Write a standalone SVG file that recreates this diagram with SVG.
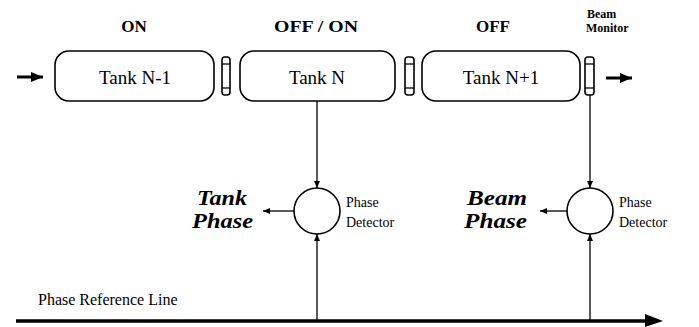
<svg xmlns="http://www.w3.org/2000/svg" width="699" height="327" viewBox="0 0 699 327" font-family="'Liberation Serif', 'Times New Roman', serif">
<defs>
<style>
text{font-family:'Liberation Serif','Times New Roman',serif;fill:#000}
.state{font-size:17px;font-weight:bold;text-anchor:middle}
.tank{font-size:19px;text-anchor:middle}
.box{fill:#fff;stroke:#000;stroke-width:1.6}
.mon{fill:#fff;stroke:#000;stroke-width:1.6}
.det{fill:#fff;stroke:#000;stroke-width:1.6}
.ln{stroke:#000;stroke-width:1.3;fill:none}
.thick{stroke:#000;stroke-width:3;fill:none}
.big{font-size:20px;font-weight:bold;font-style:italic}
.small{font-size:14px}
</style>
<marker id="ah" markerUnits="userSpaceOnUse" markerWidth="8" markerHeight="8" refX="7" refY="3" orient="auto">
<path d="M0,0 L7,3 L0,6 Z" fill="#000"/>
</marker>
<marker id="ahb" markerUnits="userSpaceOnUse" markerWidth="14" markerHeight="12" refX="12" refY="5" orient="auto">
<path d="M0,0 L12,5 L0,10 Z" fill="#000"/>
</marker>
</defs>
<rect width="699" height="327" fill="#fff"/>

<g id="labels">
<text class="state" x="316" y="32" textLength="84" lengthAdjust="spacingAndGlyphs">OFF / ON</text>
<text class="state" x="134" y="32">ON</text>
<text class="state" x="493" y="32">OFF</text>
</g>

<g id="tank-n-1">
<rect class="box" x="55" y="51" width="159" height="50" rx="14"/>
<text class="tank" x="135" y="84">Tank N-1</text>
</g>
<g id="tank-n">
<rect class="box" x="240" y="51" width="155" height="50" rx="14"/>
<text class="tank" x="317" y="84">Tank N</text>
</g>
<g id="tank-n+1">
<rect class="box" x="422" y="51" width="158" height="50" rx="14"/>
<text class="tank" x="501" y="84">Tank N+1</text>
</g>

<g id="monitor-1">
<rect class="mon" x="222" y="57" width="8" height="38" rx="3"/>
<line class="ln" x1="222" y1="64" x2="230" y2="64"/>
<line class="ln" x1="222" y1="88" x2="230" y2="88"/>
</g>
<g id="monitor-2">
<rect class="mon" x="405" y="57" width="9" height="38" rx="3"/>
<line class="ln" x1="405" y1="64" x2="414" y2="64"/>
<line class="ln" x1="405" y1="88" x2="414" y2="88"/>
</g>
<g id="beam-monitor">
<rect class="mon" x="585" y="57" width="9" height="38" rx="3"/>
<line class="ln" x1="585" y1="64" x2="594" y2="64"/>
<line class="ln" x1="585" y1="88" x2="594" y2="88"/>
<text x="587" y="18" font-size="12" font-weight="bold">Beam</text>
<text x="586" y="32" font-size="12" font-weight="bold">Monitor</text>
</g>

<g id="detector-tank">
<circle class="det" cx="317" cy="211" r="23"/>
<text class="small" x="346" y="207">Phase</text>
<text class="small" x="346" y="227">Detector</text>
<text class="big" x="197" y="205" textLength="50" lengthAdjust="spacingAndGlyphs">Tank</text>
<text class="big" x="192" y="228" textLength="61" lengthAdjust="spacingAndGlyphs">Phase</text>
</g>
<g id="detector-beam">
<circle class="det" cx="590" cy="211" r="23"/>
<text class="small" x="619" y="207">Phase</text>
<text class="small" x="619" y="227">Detector</text>
<text class="big" x="467" y="205" textLength="60" lengthAdjust="spacingAndGlyphs">Beam</text>
<text class="big" x="464" y="228" textLength="63" lengthAdjust="spacingAndGlyphs">Phase</text>
</g>

<g id="reference">
<text x="38" y="305" font-size="16">Phase Reference Line</text>
</g>

<g id="connectors">
<line class="thick" x1="17" y1="77" x2="43" y2="77" marker-end="url(#ahb)"/>
<line class="thick" x1="606" y1="78" x2="632" y2="78" marker-end="url(#ahb)"/>
<line x1="16" y1="321" x2="650" y2="321" stroke="#000" stroke-width="3.5"/>
<path d="M645,314 L663,321 L645,327 Z" fill="#000"/>
<line class="ln" x1="317" y1="101" x2="317" y2="188" marker-end="url(#ah)"/>
<line class="ln" x1="317" y1="321" x2="317" y2="234" marker-end="url(#ah)"/>
<line class="ln" x1="294" y1="211" x2="263" y2="211" marker-end="url(#ah)"/>
<line class="ln" x1="590" y1="95" x2="590" y2="188" marker-end="url(#ah)"/>
<line class="ln" x1="590" y1="321" x2="590" y2="234" marker-end="url(#ah)"/>
<line class="ln" x1="567" y1="211" x2="540" y2="211" marker-end="url(#ah)"/>
</g>
</svg>
